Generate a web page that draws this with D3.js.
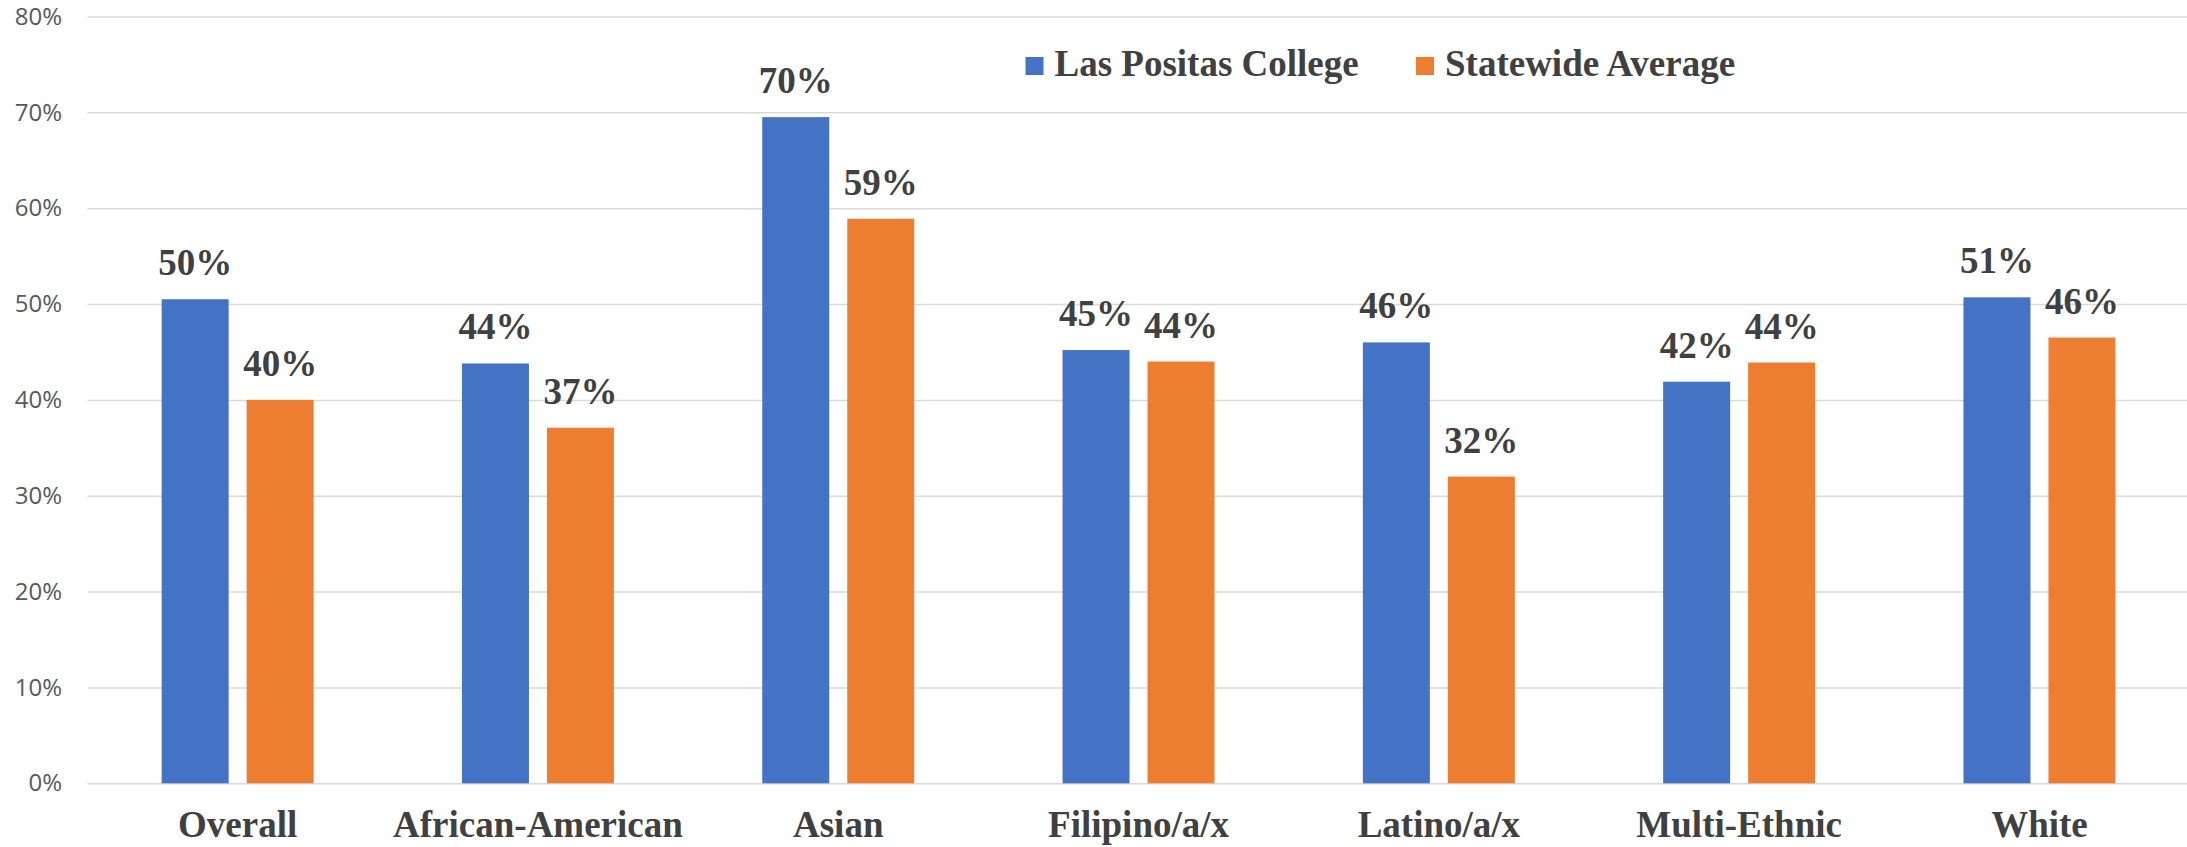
<html>

<head>
  <script src="https://d3js.org/d3.v7.min.js"></script>

  <style>
    body {
      margin: 0;
      background: #fff;
    }

    .gridlines line {
      stroke: #d9d9d9;
      stroke-width: 1.5px;
    }

    .gridlines .domain {
      stroke: none;
    }

    .y.axis text {
      font-family: "Open Sans", sans-serif;
      font-size: 24px;
      fill: #595959;
    }

    .bold-label {
      font-family: "Liberation Serif", "Times New Roman", serif;
      font-weight: bold;
      font-size: 37px;
      fill: #404040;
    }
  </style>
</head>

<body>
  <svg id="barchart" height="847" width="2187"></svg>

  <script>
    const categories = ["Overall", "African-American", "Asian", "Filipino/a/x", "Latino/a/x", "Multi-Ethnic", "White"];
    const seriesNames = ["Las Positas College", "Statewide Average"];
    const lasPositas = [0.505, 0.438, 0.695, 0.452, 0.460, 0.419, 0.507];
    const statewide = [0.400, 0.371, 0.589, 0.440, 0.320, 0.439, 0.465];
    const valueLabels = [
      ["50%", "44%", "70%", "45%", "46%", "42%", "51%"],
      ["40%", "37%", "59%", "44%", "32%", "44%", "46%"]
    ];
    const yTicks = [0, 0.1, 0.2, 0.3, 0.4, 0.5, 0.6, 0.7, 0.8];
    const colors = ["#4472C4", "#ED7D31"];

    const svg = d3.select("svg#barchart");
    const plotLeft = 87.5;
    const plotRight = 2189.6;
    const plotTop = 16.5;
    const plotBottom = 783.3;

    const data = categories.map((c, i) => ({
      category: c,
      values: [lasPositas[i], statewide[i]],
      labels: [valueLabels[0][i], valueLabels[1][i]]
    }));

    const xScale = d3.scaleBand()
      .domain(categories)
      .range([plotLeft, plotRight])
      .padding(0);

    const groupWidth = 152;
    const xInner = d3.scaleBand()
      .domain([0, 1])
      .range([0, groupWidth])
      .paddingInner(0.2118);

    const yScale = d3.scaleLinear()
      .domain([0, 0.8])
      .range([plotBottom, plotTop]);

    let annotations = svg.append("g").attr("id", "annotations");

    let leftGridlines = d3.axisLeft(yScale)
      .tickValues(yTicks)
      .tickSize(-(plotRight - plotLeft))
      .tickFormat("");
    annotations.append("g")
      .attr("class", "y gridlines")
      .attr("transform", `translate(${plotLeft},0)`)
      .call(leftGridlines);

    let leftAxis = d3.axisLeft(yScale)
      .tickValues(yTicks)
      .tickSize(0)
      .tickPadding(0)
      .tickFormat(d3.format(".0%"));
    annotations.append("g")
      .attr("class", "y axis")
      .attr("transform", `translate(62,0)`)
      .call(leftAxis)
      .call(g => g.select(".domain").remove());

    let chartArea = svg.append("g").attr("id", "bars");

    const groups = chartArea.selectAll(".group")
      .data(data)
      .enter().append("g")
      .attr("class", "group")
      .attr("transform", d => `translate(${xScale(d.category) + (xScale.bandwidth() - groupWidth) / 2},0)`);

    groups.selectAll("rect")
      .data(d => d.values.map((v, k) => ({ k: k, v: v })))
      .enter().append("rect")
      .attr("x", d => xInner(d.k))
      .attr("y", d => yScale(d.v))
      .attr("width", xInner.bandwidth())
      .attr("height", d => yScale(0) - yScale(d.v))
      .attr("fill", d => colors[d.k]);

    groups.selectAll("text")
      .data(d => d.values.map((v, k) => ({ k: k, v: v, label: d.labels[k] })))
      .enter().append("text")
      .attr("class", "bold-label")
      .attr("x", d => xInner(d.k) + xInner.bandwidth() / 2)
      .attr("y", d => yScale(d.v) - 24)
      .attr("text-anchor", "middle")
      .text(d => d.label);

    // category labels
    annotations.selectAll(".xlabel")
      .data(categories)
      .enter().append("text")
      .attr("class", "bold-label")
      .attr("x", d => xScale(d) + xScale.bandwidth() / 2)
      .attr("y", 837)
      .attr("text-anchor", "middle")
      .text(d => d);

    // legend
    const legendX = [1025.5, 1416];
    const legend = svg.append("g").attr("id", "legend");
    const items = legend.selectAll(".legend-item")
      .data(seriesNames)
      .enter().append("g")
      .attr("transform", (d, i) => `translate(${legendX[i]},0)`);

    items.append("rect")
      .attr("x", 0)
      .attr("y", 57)
      .attr("width", 18)
      .attr("height", 18)
      .attr("fill", (d, i) => colors[i]);

    items.append("text")
      .attr("class", "bold-label")
      .attr("x", 29)
      .attr("y", 76)
      .text(d => d);
  </script>

</body>

</html>
